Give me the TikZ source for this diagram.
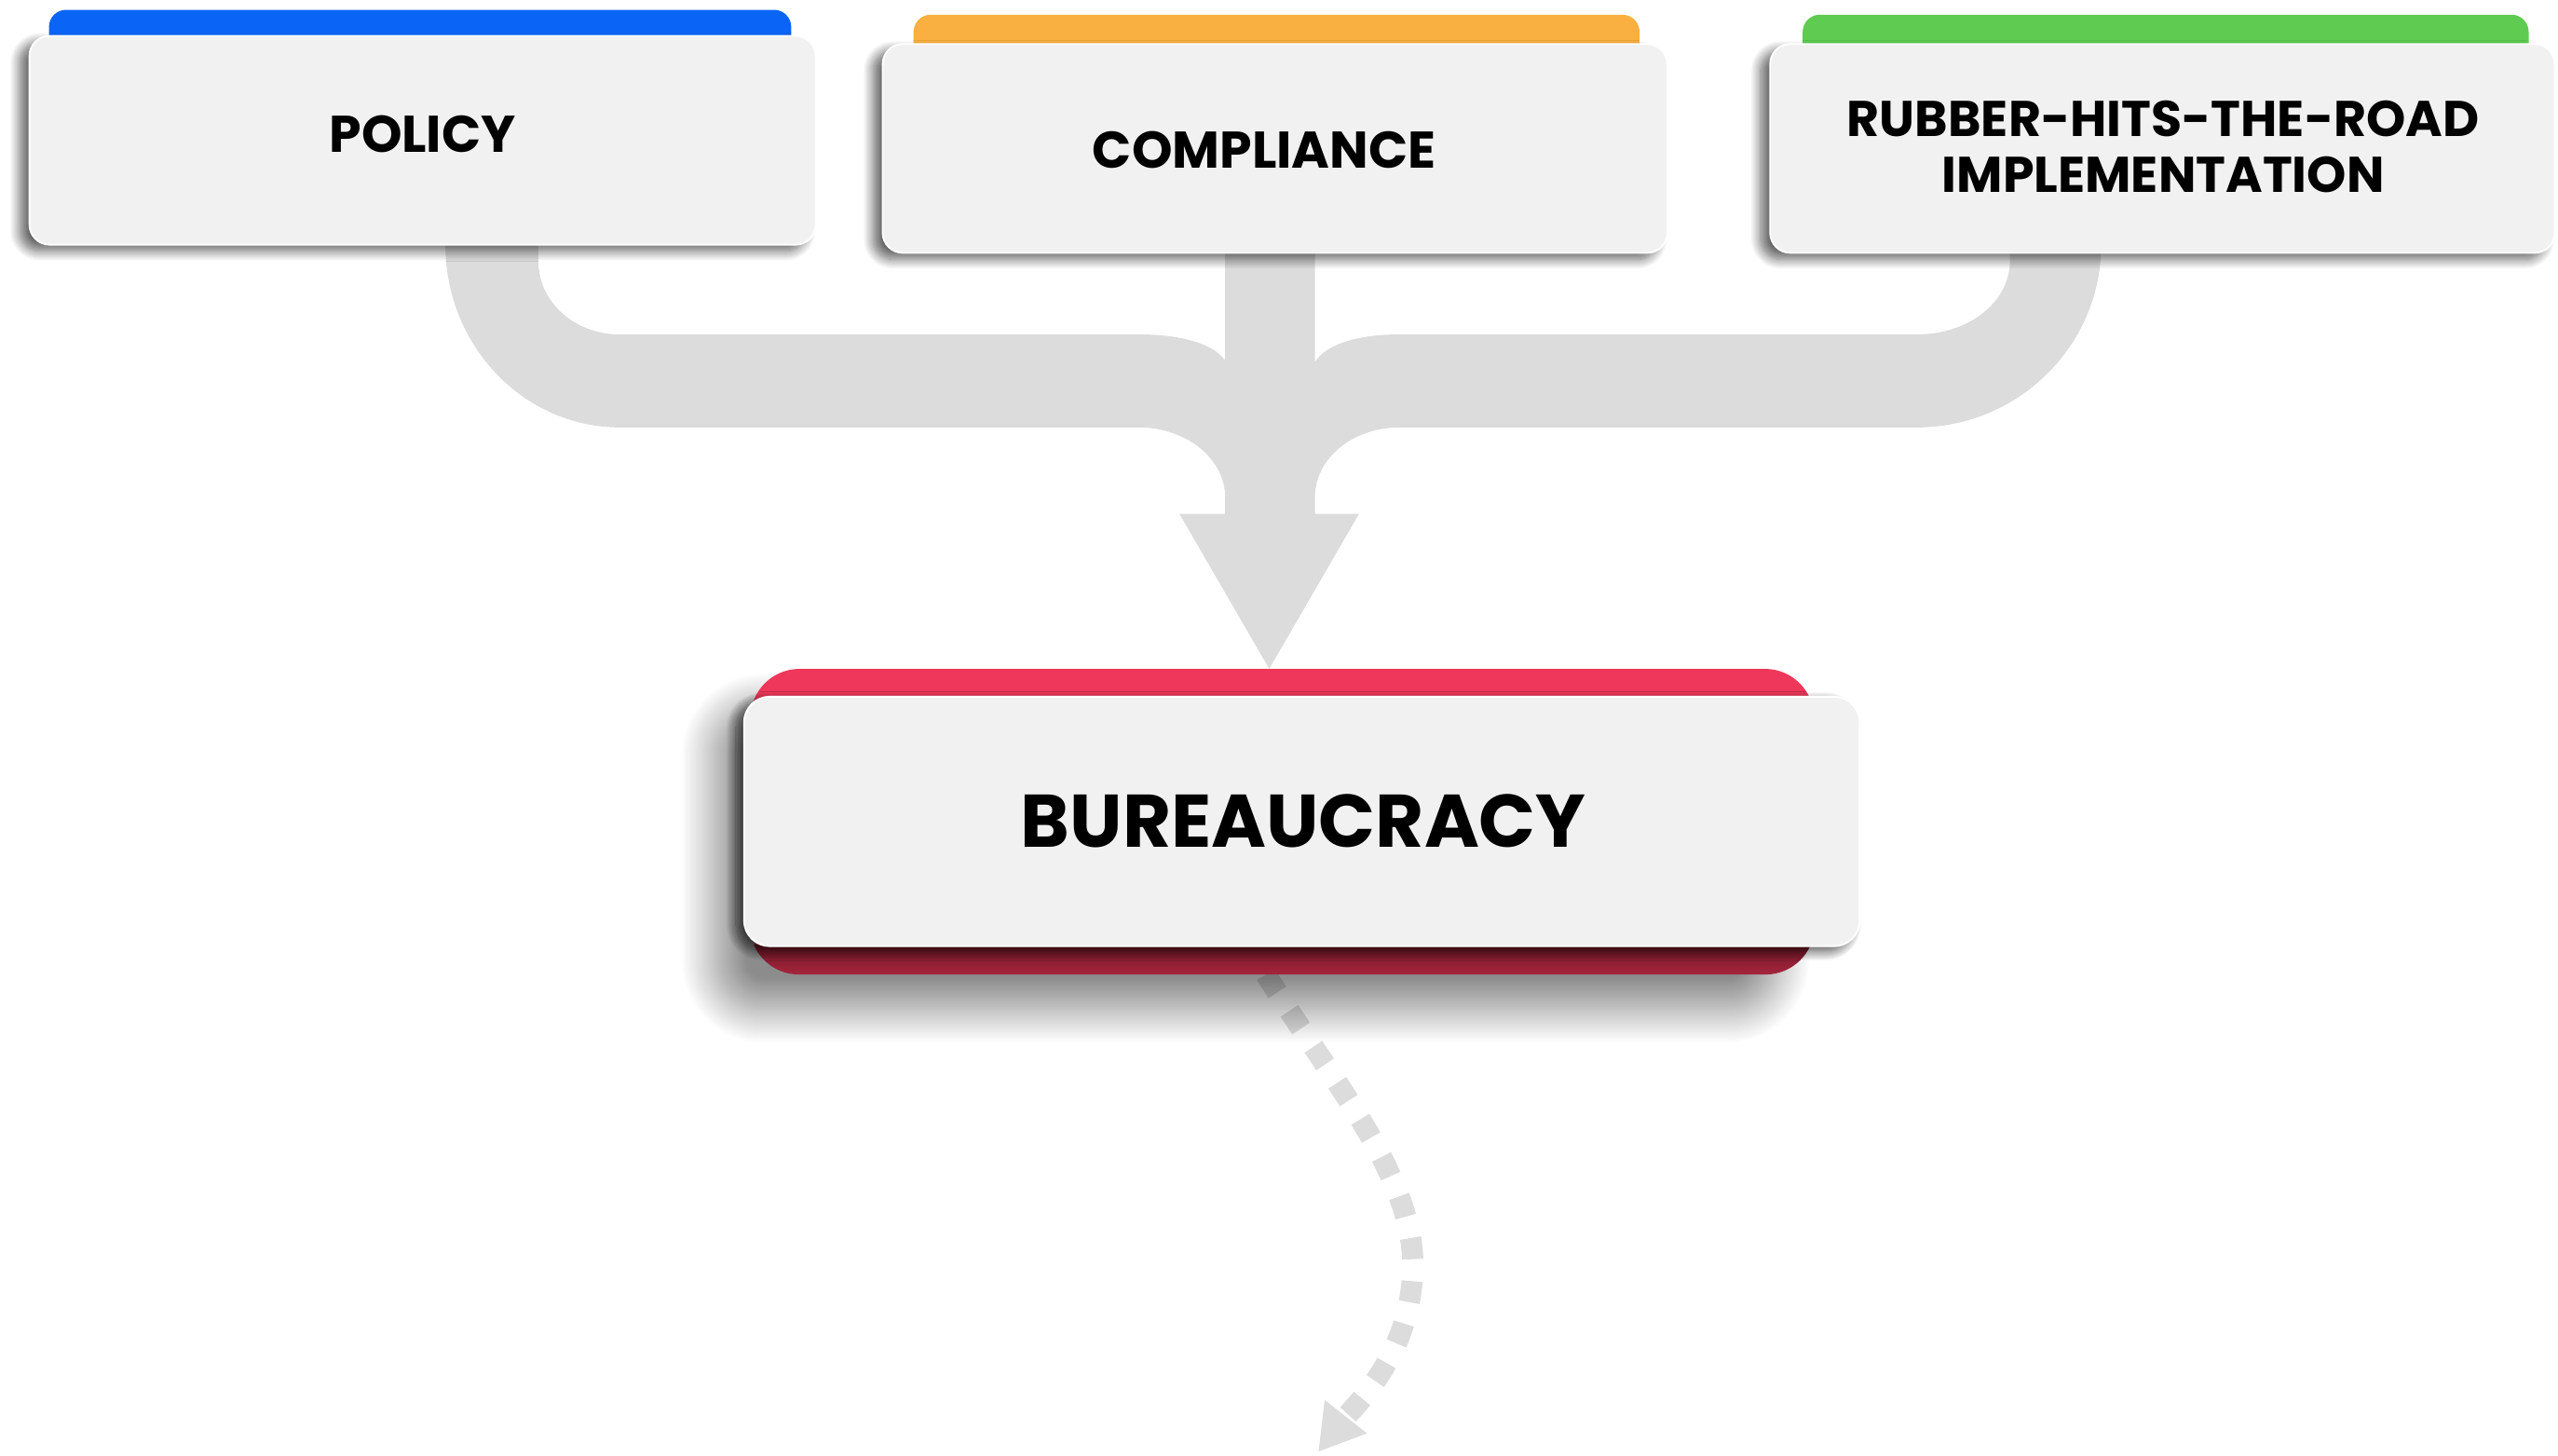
\documentclass[tikz,border=0pt]{standalone}
\usepackage{fontspec}
\setmainfont{Poppins}
\usetikzlibrary{shadows.blur,arrows.meta}
\definecolor{conn}{RGB}{220,220,220}
\definecolor{boxfill}{RGB}{241,241,241}
\definecolor{tabblue}{RGB}{10,100,245}
\definecolor{taborange}{RGB}{250,176,64}
\definecolor{tabgreen}{RGB}{95,203,80}
\definecolor{bred}{RGB}{238,55,90}
\definecolor{bdark}{RGB}{115,25,40}
\definecolor{bmid}{RGB}{172,38,64}
\pgfdeclarelayer{bg}
\pgfsetlayers{bg,main}
\begin{document}
\begin{tikzpicture}[x=0.02cm,y=-0.02cm,
  card/.style={fill=boxfill, draw=white, line width=0.6pt, rounded corners=7pt, inner sep=0pt,
    blur shadow={shadow xshift=-0.12cm, shadow yshift=-0.08cm, shadow blur radius=0.12cm, shadow blur steps=12, shadow opacity=60}},
  tabshape/.style={rounded corners=6pt},
  lbl/.style={font=\bfseries\fontsize{18}{20}\selectfont, align=center, text=black, inner sep=0pt}]
\useasboundingbox (0,0) rectangle (1568,892);

% top tabs
\fill[tabblue, tabshape] (30,6) rectangle (485,70);
\fill[taborange, tabshape] (560,9) rectangle (1005,70);
\fill[tabgreen, tabshape] (1105,9) rectangle (1550,70);

% top cards
\node[card, minimum width=9.64cm, minimum height=2.56cm] (policy) at (259,86) {};
\node[card, minimum width=9.62cm, minimum height=2.56cm] (compliance) at (781.5,91) {};
\node[card, minimum width=9.62cm, minimum height=2.56cm] (rubber) at (1325.5,91) {};

\node[lbl] (policyT) at (259,82) {POLICY};
\node[lbl] (complianceT) at (775,92) {COMPLIANCE};
\node[lbl, font=\bfseries\fontsize{17.5}{19.5}\selectfont] (rubberT) at (1326,90) {RUBBER-HITS-THE-ROAD\\IMPLEMENTATION};

% bureaucracy base and card
\node[fill=bred, rounded corners=0.6cm, minimum width=13.04cm, minimum height=3.74cm, inner sep=0pt,
  blur shadow={shadow xshift=-0.45cm, shadow yshift=-0.45cm, shadow blur radius=0.4cm, shadow blur steps=30, shadow opacity=45}]
  (bbase) at (786,503.5) {};
\begin{scope}
  \clip[rounded corners=0.6cm] (bbase.north west) rectangle (bbase.south east);
  \shade[top color=bdark, bottom color=bmid] (440,579) rectangle (1130,600);
\end{scope}
\node[card, rounded corners=9pt, minimum width=13.68cm, minimum height=3.06cm,
  blur shadow={shadow xshift=-0.1cm, shadow yshift=-0.06cm, shadow blur radius=0.12cm, shadow blur steps=12, shadow opacity=40}]
  (bureau) at (798,503.5) {};
\node[lbl, font=\bfseries\fontsize{26}{30}\selectfont] (bureauT) at (799,503) {BUREAUCRACY};

\coordinate (dend) at (808,890);

\begin{pgfonlayer}{bg}
  % merging connector
  \fill[conn] (273,140) -- (273,150) .. controls (273,212) and (321,262) .. (380,262)
    -- (698,262) .. controls (727,262) and (751,281) .. (751,305)
    -- (751,315) -- (723,315) -- (778,410) -- (833,315) -- (806,315) -- (806,305)
    .. controls (806,281) and (829,262) .. (858,262)
    -- (1175,262) .. controls (1237,262) and (1288,212) .. (1288,150)
    -- (1288,140) -- (1232,140) -- (1232,160)
    .. controls (1232,185) and (1207,205) .. (1175,205)
    -- (858,205) .. controls (830,205) and (812,212) .. (806,222)
    -- (806,140) -- (751,140) -- (751,221)
    .. controls (745,212) and (727,205) .. (698,205)
    -- (380,205) .. controls (352,205) and (330,185) .. (330,160)
    -- (330,140) -- cycle;
  % dotted connector
  \draw[conn, line width=0.26cm, dash pattern=on 0.26cm off 0.27cm,
    -{Triangle[width=0.62cm,length=0.55cm]}]
    ([xshift=-0.2cm]bbase.south) .. controls (815,660) and (866,720) .. (866,775)
    .. controls (866,830) and (830,862) .. (dend);
\end{pgfonlayer}
\end{tikzpicture}
\end{document}
